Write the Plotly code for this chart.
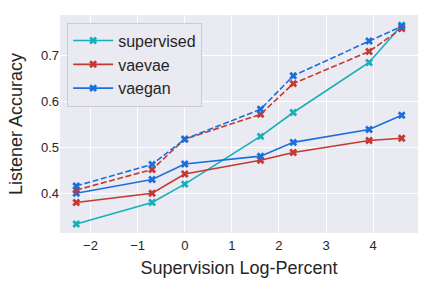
import numpy as np
import plotly.graph_objects as go

log_percent = [-2.303, -0.693, 0.0, 1.609, 2.303, 3.912, 4.605]

supervised = [0.333, 0.380, 0.420, 0.524, 0.576, 0.685, 0.766]
vaevae_solid = [0.380, 0.400, 0.442, 0.472, 0.489, 0.515, 0.520]
vaegan_solid = [0.400, 0.430, 0.464, 0.481, 0.511, 0.539, 0.570]
vaevae_dashed = [0.407, 0.452, 0.518, 0.572, 0.639, 0.709, 0.759]
vaegan_dashed = [0.416, 0.463, 0.518, 0.583, 0.656, 0.732, 0.764]

colors = {"supervised": "#17AFB8", "vaevae": "#C23A32", "vaegan": "#1B6FDD"}

fig = go.Figure()

def add(y, name, dash, show):
    fig.add_trace(go.Scatter(
        x=log_percent, y=y, name=name, mode="lines+markers",
        line=dict(color=colors[name], width=1.6, dash=dash),
        marker=dict(symbol="x", size=7, color=colors[name]),
        showlegend=show,
    ))

add(supervised, "supervised", "solid", True)
add(vaevae_solid, "vaevae", "solid", True)
add(vaegan_solid, "vaegan", "solid", True)
add(vaevae_dashed, "vaevae", "6px,2.5px", False)
add(vaegan_dashed, "vaegan", "6px,2.5px", False)

font_family = "Liberation Sans, Arial, sans-serif"

fig.update_layout(
    width=432, height=288,
    margin=dict(l=60, r=14, t=15, b=55),
    paper_bgcolor="white",
    plot_bgcolor="#EAEAF2",
    font=dict(family=font_family, color="#262626"),
    legend=dict(
        x=0.02, y=0.965, xanchor="left", yanchor="top",
        bgcolor="#EAEAF2", bordercolor="#CCCCCC", borderwidth=1,
        font=dict(size=16, color="#262626"),
        traceorder="normal", itemwidth=40,
    ),
    xaxis=dict(
        range=[-2.648, 4.951],
        tickvals=[-2, -1, 0, 1, 2, 3, 4],
        ticktext=["\u22122", "\u22121", "0", "1", "2", "3", "4"],
        showgrid=True, gridcolor="white", gridwidth=1,
        zeroline=False, showline=False, ticks="",
        tickfont=dict(size=13, color="#262626"),
        ticklabelstandoff=3,
        automargin=False,
        title=dict(text="Supervision Log-Percent", font=dict(size=18, color="#262626"), standoff=9),
    ),
    yaxis=dict(
        range=[0.3135, 0.7885],
        tickvals=[0.4, 0.5, 0.6, 0.7],
        ticktext=["0.4", "0.5", "0.6", "0.7"],
        showgrid=True, gridcolor="white", gridwidth=1,
        zeroline=False, showline=False, ticks="",
        tickfont=dict(size=13, color="#262626"),
        automargin=False,
        title=dict(text="Listener Accuracy", font=dict(size=18, color="#262626"), standoff=13),
    ),
)

fig.write_html("out.html", config={"displayModeBar": False},
               post_script="document.body.style.margin='0';")
